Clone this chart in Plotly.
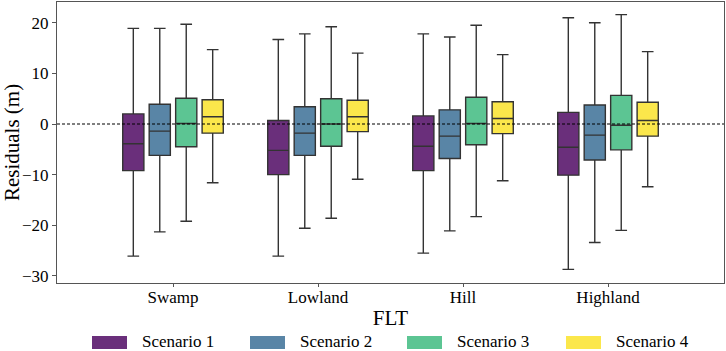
import plotly.graph_objects as go

categories = ["Swamp", "Lowland", "Hill", "Highland"]
scenarios = ["Scenario 1", "Scenario 2", "Scenario 3", "Scenario 4"]
colors = ["#6a2f7b", "#5985a6", "#5cc593", "#fbe74b"]

# per scenario, values for [Swamp, Lowland, Hill, Highland]
upper = [
    [18.9, 16.7, 17.8, 21.0],
    [18.9, 17.8, 17.2, 20.0],
    [19.7, 19.2, 19.5, 21.6],
    [14.7, 14.0, 13.7, 14.3],
]
q3 = [
    [2.0, 0.7, 1.6, 2.3],
    [3.9, 3.4, 2.8, 3.75],
    [5.1, 5.0, 5.3, 5.65],
    [4.8, 4.7, 4.4, 4.3],
]
median = [
    [-3.9, -5.2, -4.4, -4.6],
    [-1.4, -1.8, -2.4, -2.2],
    [0.1, 0.0, 0.1, -0.25],
    [1.45, 1.45, 1.1, 0.7],
]
q1 = [
    [-9.2, -10.0, -9.2, -10.1],
    [-6.2, -6.2, -6.8, -7.1],
    [-4.5, -4.4, -4.1, -5.1],
    [-1.8, -1.5, -1.9, -2.4],
]
lower = [
    [-26.1, -26.1, -25.5, -28.7],
    [-21.3, -20.6, -21.1, -23.4],
    [-19.2, -18.6, -18.3, -21.0],
    [-11.6, -10.9, -11.2, -12.4],
]
y_ticks = [-30, -20, -10, 0, 10, 20]

FONT = "Liberation Serif, Times New Roman, serif"

fig = go.Figure()
for i, name in enumerate(scenarios):
    fig.add_trace(go.Box(
        name=name,
        x=categories,
        q1=q1[i], median=median[i], q3=q3[i],
        lowerfence=lower[i], upperfence=upper[i],
        fillcolor=colors[i],
        line=dict(color="#333333", width=1.4),
        whiskerwidth=0.55,
        boxpoints=False,
        showlegend=False,
    ))

# zero reference line
fig.add_hline(y=0, line=dict(color="black", width=1.1, dash="3px,2px"), layer="above")

# manual legend
sw_x0 = [92, 250, 407, 566]
L, R, T, B = 57, 724, 2, 283
pw, ph = R - L, B - T
def px(xp):
    return (xp - L) / pw
def py(yp):
    return (B - yp) / ph
for i, name in enumerate(scenarios):
    fig.add_shape(type="rect", xref="paper", yref="paper",
                  x0=px(sw_x0[i]), x1=px(sw_x0[i] + 35),
                  y0=py(349), y1=py(336),
                  fillcolor=colors[i], line=dict(width=0))
    fig.add_annotation(xref="paper", yref="paper", x=px(sw_x0[i] + 49), y=py(341),
                       text=name, showarrow=False, xanchor="left", yanchor="middle",
                       borderpad=0,
                       font=dict(family=FONT, size=17, color="black"))

fig.update_layout(
    width=726, height=351,
    margin=dict(l=L, r=726 - R, t=T, b=351 - B, autoexpand=False),
    paper_bgcolor="white", plot_bgcolor="white",
    boxmode="group", boxgroupgap=0.2, boxgap=0.27,
    font=dict(family=FONT, size=17, color="black"),
    showlegend=False,
)
fig.update_xaxes(
    range=[-0.8, 3.8], automargin=False,
    showline=True, linecolor="#555555", linewidth=1, mirror=True,
    ticks="outside", ticklen=3, tickcolor="#555555",
    ticklabelstandoff=-4,
    tickfont=dict(family=FONT, size=17),
    title=dict(text="FLT", font=dict(family=FONT, size=21), standoff=3),
    showgrid=False, zeroline=False,
)
fig.update_yaxes(
    range=[-31.4, 24.1], automargin=False,
    tickvals=y_ticks,
    showline=True, linecolor="#555555", linewidth=1, mirror=True,
    ticks="outside", ticklen=4, tickcolor="#555555",
    tickfont=dict(family=FONT, size=17),
    title=dict(text="Residuals (m)", font=dict(family=FONT, size=21), standoff=4),
    showgrid=False, zeroline=False,
)

fig.write_html(
    "out.html",
    config={"displayModeBar": False},
    post_script="document.body.style.margin='0';document.body.style.overflow='hidden';",
)
